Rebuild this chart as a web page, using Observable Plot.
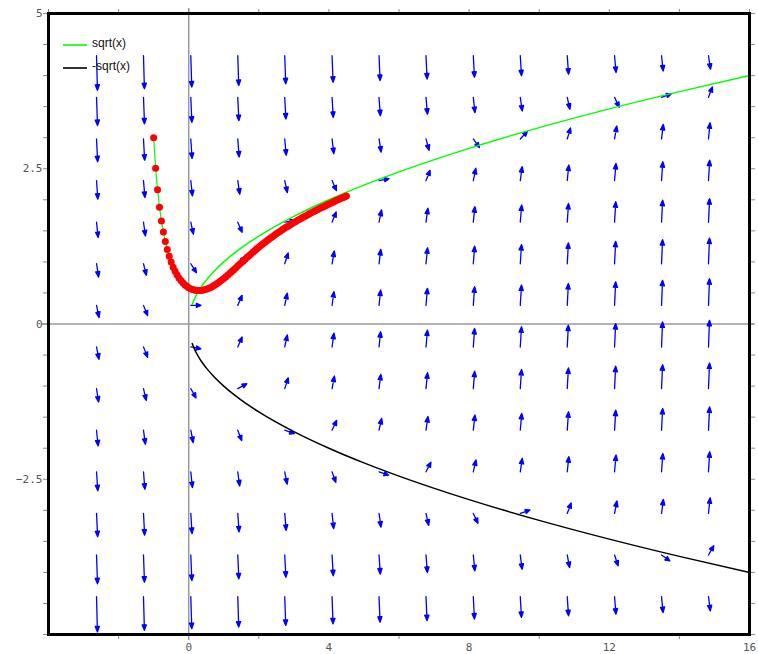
<!DOCTYPE html>
<html>
<head>
<meta charset="utf-8">
<script src="https://cdn.jsdelivr.net/npm/d3@7"></script>
<script src="https://cdn.jsdelivr.net/npm/@observablehq/plot@0.6"></script>
<style>
  body { margin: 0; background: #fff; }
</style>
</head>
<body>
<div id="chart"></div>
<script>
// Direction field of dy/dx = x - y^2 with one traced solution and the curves y = ±sqrt(x).

// Grid of the direction field (arrow tails)
const gridX = [-2.63, -1.29, 0.06, 1.40, 2.74, 4.09, 5.43, 6.77, 8.12, 9.46, 10.80, 12.15, 13.49, 14.83];
const gridY = [4.32, 3.65, 2.98, 2.31, 1.64, 0.97, 0.30, -0.37, -1.04, -1.71, -2.38, -3.05, -3.72, -4.39];

// Slope dy/dx at each grid point, one row per gridY value
const slopes = [
  [-21.3, -20.0, -18.6, -17.3, -15.9, -14.6, -13.2, -11.9, -10.5, -9.2, -7.9, -6.5, -5.2, -3.8],
  [-16.0, -14.6, -13.3, -11.9, -10.6, -9.2, -7.9, -6.6, -5.2, -3.9, -2.5, -1.2, 0.2, 1.5],
  [-11.5, -10.2, -8.8, -7.5, -6.1, -4.8, -3.5, -2.1, -0.8, 0.6, 1.9, 3.3, 4.6, 6.0],
  [-8.0, -6.6, -5.3, -3.9, -2.6, -1.3, 0.1, 1.4, 2.8, 4.1, 5.5, 6.8, 8.2, 9.5],
  [-5.3, -4.0, -2.6, -1.3, 0.1, 1.4, 2.7, 4.1, 5.4, 6.8, 8.1, 9.5, 10.8, 12.1],
  [-3.6, -2.2, -0.9, 0.5, 1.8, 3.2, 4.5, 5.8, 7.2, 8.5, 9.9, 11.2, 12.6, 13.9],
  [-2.7, -1.4, 0.0, 1.3, 2.7, 4.0, 5.3, 6.7, 8.0, 9.4, 10.7, 12.1, 13.4, 14.7],
  [-2.8, -1.4, -0.1, 1.3, 2.6, 4.0, 5.3, 6.6, 8.0, 9.3, 10.7, 12.0, 13.4, 14.7],
  [-3.7, -2.4, -1.0, 0.3, 1.7, 3.0, 4.4, 5.7, 7.0, 8.4, 9.7, 11.1, 12.4, 13.8],
  [-5.6, -4.2, -2.9, -1.5, -0.2, 1.2, 2.5, 3.9, 5.2, 6.5, 7.9, 9.2, 10.6, 11.9],
  [-8.3, -7.0, -5.6, -4.3, -2.9, -1.6, -0.2, 1.1, 2.5, 3.8, 5.1, 6.5, 7.8, 9.2],
  [-11.9, -10.6, -9.2, -7.9, -6.6, -5.2, -3.9, -2.5, -1.2, 0.2, 1.5, 2.9, 4.2, 5.5],
  [-16.5, -15.1, -13.8, -12.4, -11.1, -9.8, -8.4, -7.1, -5.7, -4.4, -3.0, -1.7, -0.4, 1.0],
  [-21.9, -20.6, -19.2, -17.9, -16.5, -15.2, -13.8, -12.5, -11.2, -9.8, -8.5, -7.1, -5.8, -4.4]
];

// Traced solution starting at (-1, 3)
const trajX = [
  -1.000, -0.944, -0.889, -0.833, -0.778, -0.722, -0.667, -0.611, -0.556, -0.500,
  -0.444, -0.389, -0.333, -0.278, -0.222, -0.167, -0.111, -0.056, 0.000, 0.056,
  0.111, 0.167, 0.222, 0.278, 0.333, 0.389, 0.444, 0.500, 0.556, 0.611,
  0.667, 0.722, 0.778, 0.833, 0.889, 0.944, 1.000, 1.056, 1.111, 1.167,
  1.222, 1.278, 1.333, 1.389, 1.444, 1.500, 1.556, 1.611, 1.667, 1.722,
  1.778, 1.833, 1.889, 1.944, 2.000, 2.056, 2.111, 2.167, 2.222, 2.278,
  2.333, 2.389, 2.444, 2.500, 2.556, 2.611, 2.667, 2.722, 2.778, 2.833,
  2.889, 2.944, 3.000, 3.056, 3.111, 3.167, 3.222, 3.278, 3.333, 3.389,
  3.444, 3.500, 3.556, 3.611, 3.667, 3.722, 3.778, 3.833, 3.889, 3.944,
  4.000, 4.056, 4.111, 4.167, 4.222, 4.278, 4.333, 4.389, 4.444, 4.500
];
const trajY = [
  3.000, 2.510, 2.160, 1.880, 1.660, 1.480, 1.330, 1.200, 1.090, 1.000,
  0.915, 0.849, 0.792, 0.742, 0.699, 0.663, 0.632, 0.606, 0.585, 0.568,
  0.555, 0.546, 0.540, 0.538, 0.539, 0.543, 0.550, 0.559, 0.571, 0.585,
  0.601, 0.619, 0.639, 0.660, 0.683, 0.707, 0.732, 0.758, 0.785, 0.813,
  0.841, 0.870, 0.899, 0.928, 0.957, 0.986, 1.015, 1.044, 1.073, 1.101,
  1.129, 1.157, 1.184, 1.211, 1.237, 1.263, 1.288, 1.313, 1.337, 1.361,
  1.384, 1.407, 1.430, 1.452, 1.474, 1.495, 1.516, 1.536, 1.556, 1.576,
  1.595, 1.614, 1.633, 1.652, 1.670, 1.688, 1.706, 1.723, 1.740, 1.757,
  1.774, 1.790, 1.806, 1.822, 1.838, 1.854, 1.870, 1.886, 1.901, 1.916,
  1.931, 1.946, 1.961, 1.976, 1.991, 2.005, 2.019, 2.033, 2.047, 2.061
];

// Samples of y = sqrt(x) and y = -sqrt(x)
const rootX = [0.1, 0.2, 0.35, 0.5, 0.75, 1, 1.5, 2, 3, 4, 5, 6, 8, 10, 12, 14, 16];
const rootPos = [0.316, 0.447, 0.592, 0.707, 0.866, 1.0, 1.225, 1.414, 1.732, 2.0, 2.236, 2.449, 2.828, 3.162, 3.464, 3.742, 4.0];
const rootNeg = [-0.316, -0.447, -0.592, -0.707, -0.866, -1.0, -1.225, -1.414, -1.732, -2.0, -2.236, -2.449, -2.828, -3.162, -3.464, -3.742, -4.0];

// Legend entries
const legendLabels = ["sqrt(x)", "-sqrt(x)"];
const legendColors = ["#00ff00", "#000000"];

// Axis ticks
const xLabelTicks = [0, 4, 8, 12, 16];
const xTopTicks = [-4, -2, 0, 2, 4, 6, 8, 10, 12, 14, 16];
const xBottomTicks = [-2, 2, 6, 10, 14];
const yLabelTicks = [5, 2.5, 0, -2.5];
const ySideTicks = [-5, -4.5, -4, -3.5, -3, -2.5, -2, -1.5, -1, -0.5, 0, 0.5, 1, 1.5, 2, 2.5, 3, 3.5, 4, 4.5, 5];

// Layout
const W = 758, H = 654;
const M = {top: 13, right: 9, bottom: 20, left: 48};
const xDomain = [-4, 16], yDomain = [-5, 5];
const kx = (W - M.left - M.right) / (xDomain[1] - xDomain[0]);
const ky = (H - M.top - M.bottom) / (yDomain[1] - yDomain[0]);

const field = [];
gridY.forEach((y, i) => gridX.forEach((x, j) => field.push({x, y, s: slopes[i][j]})));

const traj = trajX.map((x, i) => ({x, y: trajY[i]}));
const upper = rootX.map((x, i) => ({x, y: rootPos[i]}));
const lower = rootX.map((x, i) => ({x, y: rootNeg[i]}));

// Shaft plus a small filled head of fixed size
const arrowShape = {
  draw(context, l) {
    const h = Math.min(5.5, l * 0.45), w = 2.1;
    context.moveTo(0, 0);
    context.lineTo(0, -l + h);
    context.moveTo(0, -l);
    context.lineTo(-w, -l + h);
    context.lineTo(w, -l + h);
    context.closePath();
  }
};

// Tick labels with a true minus sign, e.g. "−2.5"
const fmt = d => (d < 0 ? "\u2212" : "") + String(Math.abs(d));

const tickColor = "#8a8a8a";
const labelColor = "#555";

const chart = Plot.plot({
  width: W,
  height: H,
  marginTop: M.top,
  marginRight: M.right,
  marginBottom: M.bottom,
  marginLeft: M.left,
  x: {domain: xDomain},
  y: {domain: yDomain},
  length: {type: "identity"},
  style: {background: "#fff", fontFamily: "'DejaVu Sans Mono', monospace", fontSize: "11px"},
  marks: [
    Plot.ruleX([0], {stroke: "#999", strokeWidth: 1.5, insetTop: -5, insetBottom: -6}),
    Plot.ruleY([0], {stroke: "#999", strokeWidth: 1.5, insetLeft: -6, insetRight: -5}),
    Plot.axisX({anchor: "top", ticks: xTopTicks, tickSize: 5, tickFormat: () => "", label: null, stroke: tickColor}),
    Plot.axisX({anchor: "bottom", ticks: xBottomTicks, tickSize: 5, tickFormat: () => "", label: null, stroke: tickColor}),
    Plot.axisX({anchor: "bottom", ticks: xLabelTicks, tickSize: 0, tickPadding: 9, tickFormat: fmt, label: null, fill: labelColor}),
    Plot.axisY({anchor: "left", ticks: ySideTicks, tickSize: 5, tickFormat: () => "", label: null, stroke: tickColor}),
    Plot.axisY({anchor: "right", ticks: ySideTicks, tickSize: 5, tickFormat: () => "", label: null, stroke: tickColor}),
    Plot.axisY({anchor: "left", ticks: yLabelTicks, tickSize: 0, tickPadding: 6, tickFormat: fmt, label: null, fill: labelColor}),
    Plot.vector(field, {
      x: "x",
      y: "y",
      length: d => 9 + 1.2 * Math.hypot(1, d.s),
      rotate: d => Math.atan2(kx, ky * d.s) * 180 / Math.PI,
      anchor: "start",
      shape: arrowShape,
      stroke: "#0000ff",
      fill: "#0000ff",
      strokeWidth: 1.3
    }),
    Plot.line(upper, {x: "x", y: "y", stroke: "#00ff00", strokeWidth: 1.5, curve: "monotone-x"}),
    Plot.line(lower, {x: "x", y: "y", stroke: "#000", strokeWidth: 1.5, curve: "monotone-x"}),
    Plot.line(traj, {x: "x", y: "y", stroke: "#00ff00", strokeWidth: 1.2}),
    Plot.dot(traj, {x: "x", y: "y", r: 3.5, fill: "#ff0000", stroke: null}),
    Plot.frame({stroke: "#000", strokeWidth: 3})
  ]
});

document.getElementById("chart").appendChild(chart);

// Legend in the upper-left corner of the frame
const legend = d3.select(chart).append("g")
  .attr("font-family", "'Liberation Sans', Arial, sans-serif")
  .attr("font-size", 12)
  .attr("text-anchor", "start")
  .attr("fill", "#111");
legendLabels.forEach((label, i) => {
  const yRow = 44 + i * 23;
  legend.append("line")
    .attr("x1", 63).attr("x2", 87)
    .attr("y1", yRow + 1).attr("y2", yRow + 1)
    .attr("stroke", legendColors[i]).attr("stroke-width", 1.6);
  legend.append("text")
    .attr("x", 92).attr("y", yRow - 1)
    .attr("dy", "0.35em")
    .text(label);
});
</script>
</body>
</html>
